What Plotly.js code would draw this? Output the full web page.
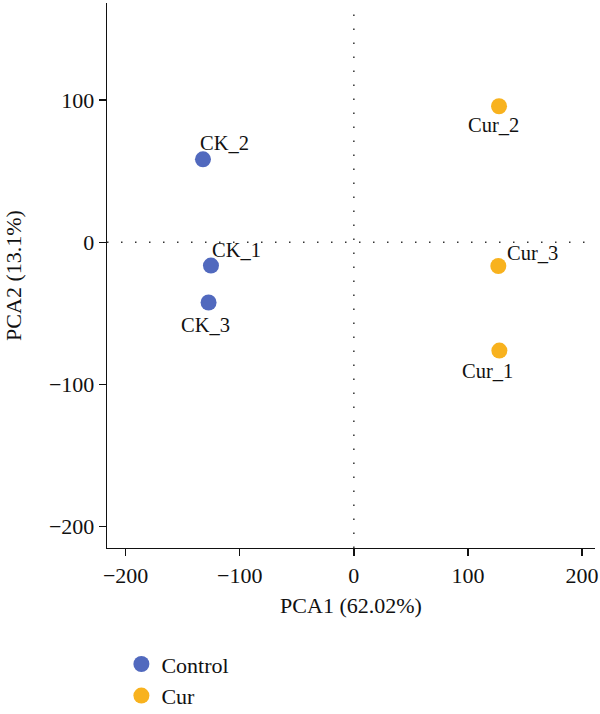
<!DOCTYPE html>
<html>
<head>
<meta charset="utf-8">
<script src="https://cdn.plot.ly/plotly-3.0.1.min.js"></script>
<style>html,body{margin:0;padding:0;background:#fff;}#chart{width:600px;height:714px;}</style>
</head>
<body>
<div id="chart"></div>
<script>
const groups = ["Control", "Cur"];
const controlLabels = ["CK_1", "CK_2", "CK_3"];
const controlPCA1 = [-125.2, -132.2, -127.3];
const controlPCA2 = [-16.4, 58.3, -42.4];
const curLabels = ["Cur_1", "Cur_2", "Cur_3"];
const curPCA1 = [127.5, 127.2, 126.6];
const curPCA2 = [-76.2, 95.6, -16.7];
const xTicks = [-200, -100, 0, 100, 200];
const yTicks = [-200, -100, 0, 100];

const FONT = "Liberation Serif";
const blue = "#5169BE";
const orange = "#F8B21E";

const traces = [
  {x: controlPCA1, y: controlPCA2, text: controlLabels, name: groups[0], type: "scatter", mode: "markers",
   marker: {color: blue, size: 16}, hoverinfo: "text"},
  {x: curPCA1, y: curPCA2, text: curLabels, name: groups[1], type: "scatter", mode: "markers",
   marker: {color: orange, size: 16}, hoverinfo: "text"}
];

// label offsets (pixels) relative to points
const offsets = {
  "CK_1": [26, -16], "CK_2": [22, -16], "CK_3": [-3, 22],
  "Cur_1": [-12, 20], "Cur_2": [-6, 19], "Cur_3": [34, -13]
};
const annotations = [];
function addLabels(xs, ys, labels) {
  labels.forEach((lab, i) => {
    annotations.push({x: xs[i], y: ys[i], xref: "x", yref: "y", text: lab, showarrow: false,
      xshift: offsets[lab][0], yshift: -offsets[lab][1],
      font: {family: FONT, size: 20.5, color: "#111"}});
  });
}
addLabels(controlPCA1, controlPCA2, controlLabels);
addLabels(curPCA1, curPCA2, curLabels);

const layout = {
  width: 600, height: 714,
  margin: {l: 107, r: 5, t: 3, b: 166},
  paper_bgcolor: "#fff", plot_bgcolor: "#fff",
  font: {family: FONT, size: 22, color: "#111"},
  showlegend: true,
  legend: {x: 0.0295, y: 0.0992, xanchor: "left", yanchor: "top", yref: "container", orientation: "v",
           font: {family: FONT, size: 22, color: "#111"}, itemwidth: 30, tracegroupgap: 0,
           bgcolor: "rgba(0,0,0,0)"},
  xaxis: {range: [-216.3, 211.3], tickvals: xTicks, ticks: "outside", ticklen: 7, tickwidth: 1.3,
          tickcolor: "#111", showline: true, linecolor: "#111", linewidth: 1.3, showgrid: false,
          zeroline: false, tickfont: {family: FONT, size: 22, color: "#111"},
          title: {text: "PCA1 (62.02%)", font: {family: FONT, size: 22, color: "#111"}, standoff: 11}},
  yaxis: {range: [-215, 168.2], tickvals: yTicks, ticks: "outside", ticklen: 7, tickwidth: 1.3,
          tickcolor: "#111", showline: true, linecolor: "#111", linewidth: 1.3, showgrid: false,
          zeroline: false, tickfont: {family: FONT, size: 22, color: "#111"},
          title: {text: "PCA2 (13.1%)", font: {family: FONT, size: 22, color: "#111"}, standoff: 21}},
  shapes: [
    {type: "line", xref: "x", yref: "paper", x0: 0, x1: 0, y0: 0, y1: 1,
     line: {color: "#333", width: 1.5, dash: "1.5px,12.5px"}},
    {type: "line", xref: "paper", yref: "y", x0: 0, x1: 1, y0: 0, y1: 0,
     line: {color: "#333", width: 1.5, dash: "1.5px,12.5px"}}
  ],
  annotations: annotations
};

Plotly.newPlot("chart", traces, layout, {displayModeBar: false, staticPlot: true});
</script>
</body>
</html>
